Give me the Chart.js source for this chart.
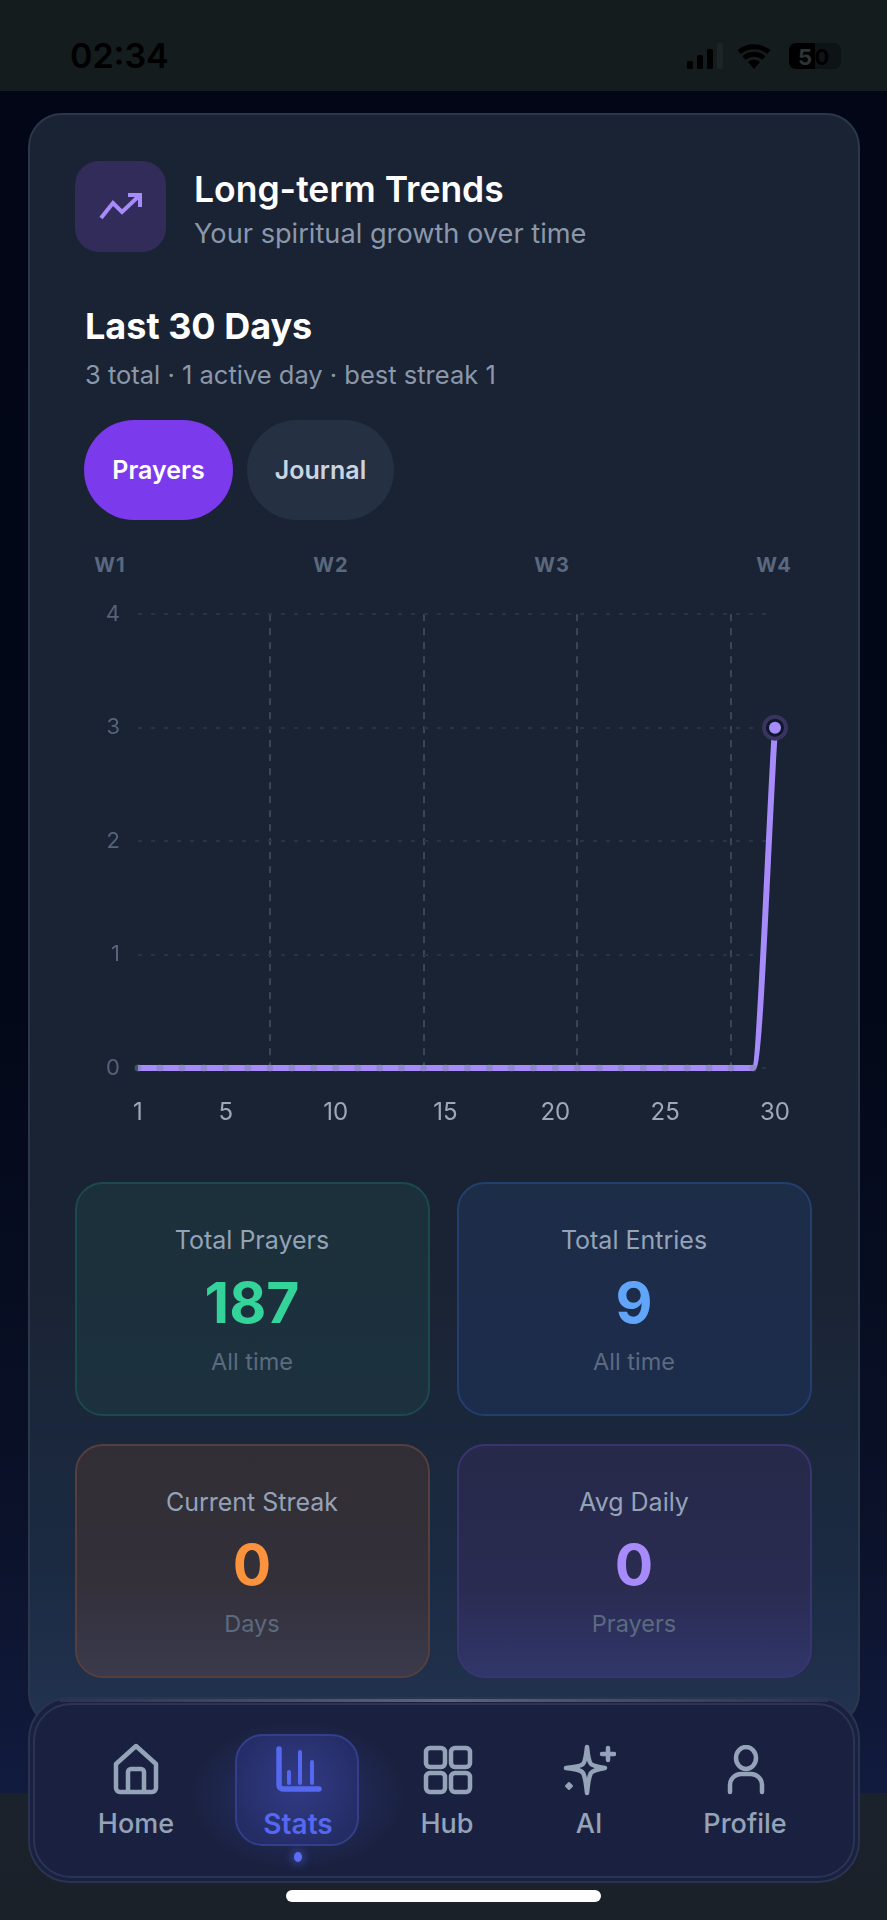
<!DOCTYPE html>
<html>
<head>
<meta charset="utf-8">
<title>Long-term Trends</title>
<script src="https://cdn.jsdelivr.net/npm/chart.js@4"></script>
<style>
  html, body { margin: 0; padding: 0; background: #020617; }
  #screen { position: relative; width: 887px; height: 1920px; overflow: hidden; font-family: Inter, "Noto Sans", sans-serif;
    background: linear-gradient(180deg, #020617 0, #030818 1000px, #0a1128 1500px, #111b3e 1793px, #1a222c 1793px, #1a2129 1920px); }
  #screen > *, .abs { position: absolute; }
  .t { white-space: nowrap; line-height: 1; }
  .c { transform: translateX(-50%); text-align: center; }
  #status { left: 0; top: 0; width: 887px; height: 91px; background: #141c1e; }
  #card { left: 28px; top: 113px; width: 828px; height: 1610px; box-sizing: content-box; border: 2px solid #2b384c; border-radius: 34px;
    background: linear-gradient(180deg, #1a2333 0, #1a2333 1150px, #1b2a42 1450px, #223350 1610px); }
  .tile { width: 351px; height: 230px; border-radius: 28px; border: 2px solid; box-sizing: content-box; }
  .pill { border-radius: 50px; height: 100px; line-height: 100px; text-align: center; font-size: 25px; font-weight: 600; }
  #chartBox { left: 60px; top: 583px; width: 760px; height: 557px; }
  #nav { left: 28px; top: 1697px; width: 832px; height: 186px; box-sizing: border-box; border: 2px solid #2a3350; border-radius: 42px; background: #1a2140; }
  #navInner { left: 33px; top: 1703px; width: 822px; height: 175px; box-sizing: border-box; border: 2px solid #2b3454; border-radius: 38px; }
  #navTop { left: 60px; top: 1699px; width: 768px; height: 3px; background: linear-gradient(90deg, #2a3350, #5b6478 50%, #2a3350); }
  #activeGlow { left: 190px; top: 1720px; width: 216px; height: 150px; background: radial-gradient(ellipse at center, rgba(79,95,230,.28), rgba(79,95,230,0) 70%); }
  #active { left: 235px; top: 1734px; width: 124px; height: 112px; box-sizing: border-box; border: 2px solid #333f8a; border-radius: 28px;
    background: radial-gradient(circle at 50% 45%, #323b85, #232b62 90%); }
  #dot { left: 294px; top: 1852px; width: 8px; height: 10px; border-radius: 50%; background: #5b6cf5; box-shadow: 0 0 8px 3px rgba(91,108,245,.35); }
  #homeBar { left: 286px; top: 1890px; width: 315px; height: 12px; border-radius: 6px; background: #fff; }
</style>
</head>
<body>
<div id="screen">
  <div id="status"></div>
  <div class="t" style="left:70px;top:39px;font-size:34px;font-weight:600;color:#000;">02:34</div>
  <svg style="left:685px;top:40px" width="160" height="32" viewBox="0 0 160 32">
    <g fill="#000">
      <rect x="2" y="21" width="6" height="8" rx="1.5"/><rect x="12" y="15" width="6" height="14" rx="1.5"/><rect x="22" y="9" width="6" height="20" rx="1.5"/>
    </g>
    <rect x="32" y="3" width="6" height="26" rx="1.5" fill="#1c2426"/>
    <path d="M54 12a24 24 0 0 1 30 0M59 18a15 15 0 0 1 20 0" fill="none" stroke="#000" stroke-width="5"/>
    <path d="M69 29l-6-7a9 9 0 0 1 12 0z" fill="#000"/>
    <rect x="104" y="3" width="52" height="26" rx="7" fill="#0e1415"/>
    <path d="M111 3h19v26h-19a7 7 0 0 1-7-7v-12a7 7 0 0 1 7-7z" fill="#000"/>
    <text x="120" y="25" font-size="22" font-weight="700" font-family="Inter" fill="#2c3436" text-anchor="middle">5</text>
    <text x="137" y="25" font-size="22" font-weight="700" font-family="Inter" fill="#000" text-anchor="middle">0</text>
  </svg>

  <div id="card"></div>
  <div style="left:75px;top:161px;width:91px;height:91px;border-radius:24px;background:#312c5a;"></div>
  <svg style="left:98px;top:192px" width="46" height="28" viewBox="0 0 46 28" fill="none" stroke="#a78bfa" stroke-width="4">
    <path d="M3 26l12-15 9 9 18-17"/><path d="M30 3h12v12"/>
  </svg>
  <div class="t" style="left:194px;top:172px;font-size:35.5px;font-weight:600;color:#fff;">Long-term Trends</div>
  <div class="t" style="left:194px;top:220px;font-size:27.2px;color:#8b98ab;">Your spiritual growth over time</div>
  <div class="t" style="left:85px;top:308px;font-size:36px;font-weight:700;color:#fff;">Last 30 Days</div>
  <div class="t" style="left:85px;top:362px;font-size:25.5px;color:#8b98ab;">3 total · 1 active day · best streak 1</div>
  <div class="pill" style="left:84px;top:420px;width:149px;background:#7c3aed;color:#fff;">Prayers</div>
  <div class="pill" style="left:247px;top:420px;width:147px;background:#253142;color:#cbd5e1;">Journal</div>

  <div id="weeks"></div>
  <div id="chartBox"><canvas id="trend" width="760" height="557"></canvas></div>

  <div id="tiles"></div>

  <div id="nav"></div>
  <div id="navInner"></div>
  <div id="navTop"></div>
  <div id="activeGlow"></div>
  <div id="active"></div>
  <div id="dot"></div>
  <svg style="left:110px;top:1742px" width="52" height="54" viewBox="0 0 52 54" fill="none" stroke="#94a3b8" stroke-width="4.5" stroke-linejoin="round">
    <path d="M6 22L26 4l20 18v24a4 4 0 0 1-4 4H10a4 4 0 0 1-4-4z"/><path d="M18 50V30a3 3 0 0 1 3-3h10a3 3 0 0 1 3 3v20"/>
  </svg>
  <svg style="left:272px;top:1745px" width="52" height="50" viewBox="0 0 52 50" fill="none" stroke="#5468f0" stroke-linecap="round">
    <path d="M7 4v36a4 4 0 0 0 4 4h36" stroke-width="5.5"/><path d="M17 27v11M28 7v31M40 17v21" stroke-width="4"/>
  </svg>
  <svg style="left:422px;top:1745px" width="52" height="50" viewBox="0 0 52 50" fill="none" stroke="#94a3b8" stroke-width="4.5">
    <rect x="4" y="3" width="19" height="19" rx="4"/><rect x="29" y="3" width="19" height="19" rx="4"/><rect x="4" y="28" width="19" height="19" rx="4"/><rect x="29" y="28" width="19" height="19" rx="4"/>
  </svg>
  <svg style="left:562px;top:1743px" width="54" height="54" viewBox="0 0 54 54" fill="none" stroke="#94a3b8" stroke-width="4.5" stroke-linejoin="round">
    <path d="M25 4c1 10 2 15 4 17 2 2 8 3 14 4-6 1-12 2-14 5-2 3-3 10-4 20-1-10-2-17-4-20-2-3-8-4-17-5 9-1 15-2 17-4 2-2 3-7 4-17z"/>
    <path d="M46 5v12M40 11h12" stroke-linecap="round"/>
    <path d="M7 40l3 3-3 3-3-3z" fill="#94a3b8" stroke-width="2"/>
  </svg>
  <svg style="left:724px;top:1745px" width="44" height="50" viewBox="0 0 44 50" fill="none" stroke="#94a3b8" stroke-width="4.5" stroke-linecap="round">
    <ellipse cx="22" cy="13" rx="10" ry="11"/><path d="M6 47V40a11 11 0 0 1 11-11h10a11 11 0 0 1 11 11v7"/>
  </svg>
  <div id="navLabels"></div>
  <div id="homeBar"></div>
</div>

<script>
// 30日分の祈り回数
var days = [1,2,3,4,5,6,7,8,9,10,11,12,13,14,15,16,17,18,19,20,21,22,23,24,25,26,27,28,29,30];
var prayers = [0,0,0,0,0,0,0,0,0,0,0,0,0,0,0,0,0,0,0,0,0,0,0,0,0,0,0,0,0,3];
var latest = [null,null,null,null,null,null,null,null,null,null,null,null,null,null,null,null,null,null,null,null,null,null,null,null,null,null,null,null,null,3];
var xTickLabels = [1,5,10,15,20,25,30];
var weekGridDays = [7,14,21,28];
var yTicks = [0,1,2,3,4];
var weekLabels = ['W1','W2','W3','W4'];
var weekCenters = [110,331,552,774];

var tileLabels = ['Total Prayers','Total Entries','Current Streak','Avg Daily'];
var tileValues = ['187','9','0','0'];
var tileNotes = ['All time','All time','Days','Prayers'];
var tileColors = ['#34d399','#60a5fa','#fb923c','#a78bfa'];
var tileFills = ['linear-gradient(180deg,#1b303a,#1c313e)','linear-gradient(180deg,#1c2d48,#1c2c4c)','linear-gradient(180deg,#322e35,#33303a 60%,#3a3a4c)','linear-gradient(180deg,#27294a,#292b50 60%,#31366a)'];
var tileBorders = ['#1c4a4c','#233f6e','#553f3e','#3a3570'];

var navLabels = ['Home','Stats','Hub','AI','Profile'];
var navCenters = [136,298,447,589,745];

function addText(text, left, top, css) {
  var el = document.createElement('div');
  el.className = 't c';
  el.textContent = text;
  el.style.cssText = 'position:absolute;left:' + left + 'px;top:' + top + 'px;' + css;
  document.getElementById('screen').appendChild(el);
}

weekLabels.forEach(function(w, i) {
  addText(w, weekCenters[i], 555, 'font-size:20px;font-weight:700;letter-spacing:1px;color:#5a6880;');
});

tileLabels.forEach(function(label, i) {
  var left = i % 2 ? 457 : 75;
  var top = i < 2 ? 1182 : 1444;
  var box = document.createElement('div');
  box.className = 'tile';
  box.style.cssText = 'position:absolute;left:' + left + 'px;top:' + top + 'px;background:' + tileFills[i] + ';border-color:' + tileBorders[i] + ';';
  document.getElementById('tiles').appendChild(box);
  var cx = left + 177;
  addText(label, cx, top + 46, 'font-size:25px;color:#94a3b8;');
  addText(tileValues[i], cx, top + 92, 'font-size:57px;font-weight:700;color:' + tileColors[i] + ';');
  addText(tileNotes[i], cx, top + 168, 'font-size:23.5px;color:#5c6a80;');
});

navLabels.forEach(function(n, i) {
  var on = n === 'Stats';
  addText(n, navCenters[i], 1810, 'font-size:' + (on ? 28 : 27) + 'px;font-weight:' + (on ? 600 : 500) + ';color:' + (on ? '#5468f0' : '#94a3b8') + ';');
});

var chart = new Chart(document.getElementById('trend'), {
  type: 'line',
  data: {
    labels: days,
    datasets: [
      {
        data: latest, order: 0, borderWidth: 0, showLine: false, clip: false,
        pointRadius: 6, pointBackgroundColor: '#a78bfa', pointBorderWidth: 0
      },
      {
        data: latest, order: 1, borderWidth: 0, showLine: false, clip: false,
        pointRadius: 11, pointBackgroundColor: '#0f172a', pointBorderColor: '#39345f', pointBorderWidth: 4
      },
      {
        data: prayers, order: 2, borderColor: '#a78bfa', borderWidth: 6, clip: false,
        cubicInterpolationMode: 'monotone',
        pointRadius: 3.5, pointBorderWidth: 0, pointBackgroundColor: 'rgba(120,130,160,.45)'
      }
    ]
  },
  options: {
    responsive: false,
    animation: false,
    devicePixelRatio: 1,
    layout: { padding: { top: 16, right: 45, left: 0, bottom: 0 } },
    plugins: { legend: { display: false }, tooltip: { enabled: false } },
    scales: {
      x: {
        type: 'category',
        afterFit: function(s) { s.height = 72; },
        border: { display: false, dash: [7, 7] },
        grid: {
          drawTicks: false,
          color: function(c) { return weekGridDays.indexOf(days[c.index]) >= 0 ? '#3a4658' : 'rgba(0,0,0,0)'; },
          lineWidth: 2
        },
        ticks: {
          autoSkip: false, maxRotation: 0, padding: 30,
          color: '#9ca8b8', font: { family: 'Inter', size: 24 },
          callback: function(v, i) { return xTickLabels.indexOf(days[i]) >= 0 ? String(days[i]) : ''; }
        }
      },
      y: {
        min: 0, max: 4,
        afterFit: function(s) { s.width = 78; },
        afterBuildTicks: function(s) { s.ticks = yTicks.map(function(v) { return { value: v }; }); },
        border: { display: false, dash: [4, 9] },
        grid: { drawTicks: false, color: '#283344', lineWidth: 2 },
        ticks: { padding: 18, color: '#56637a', font: { family: 'Inter', size: 22 } }
      }
    }
  }
});
</script>
</body>
</html>
